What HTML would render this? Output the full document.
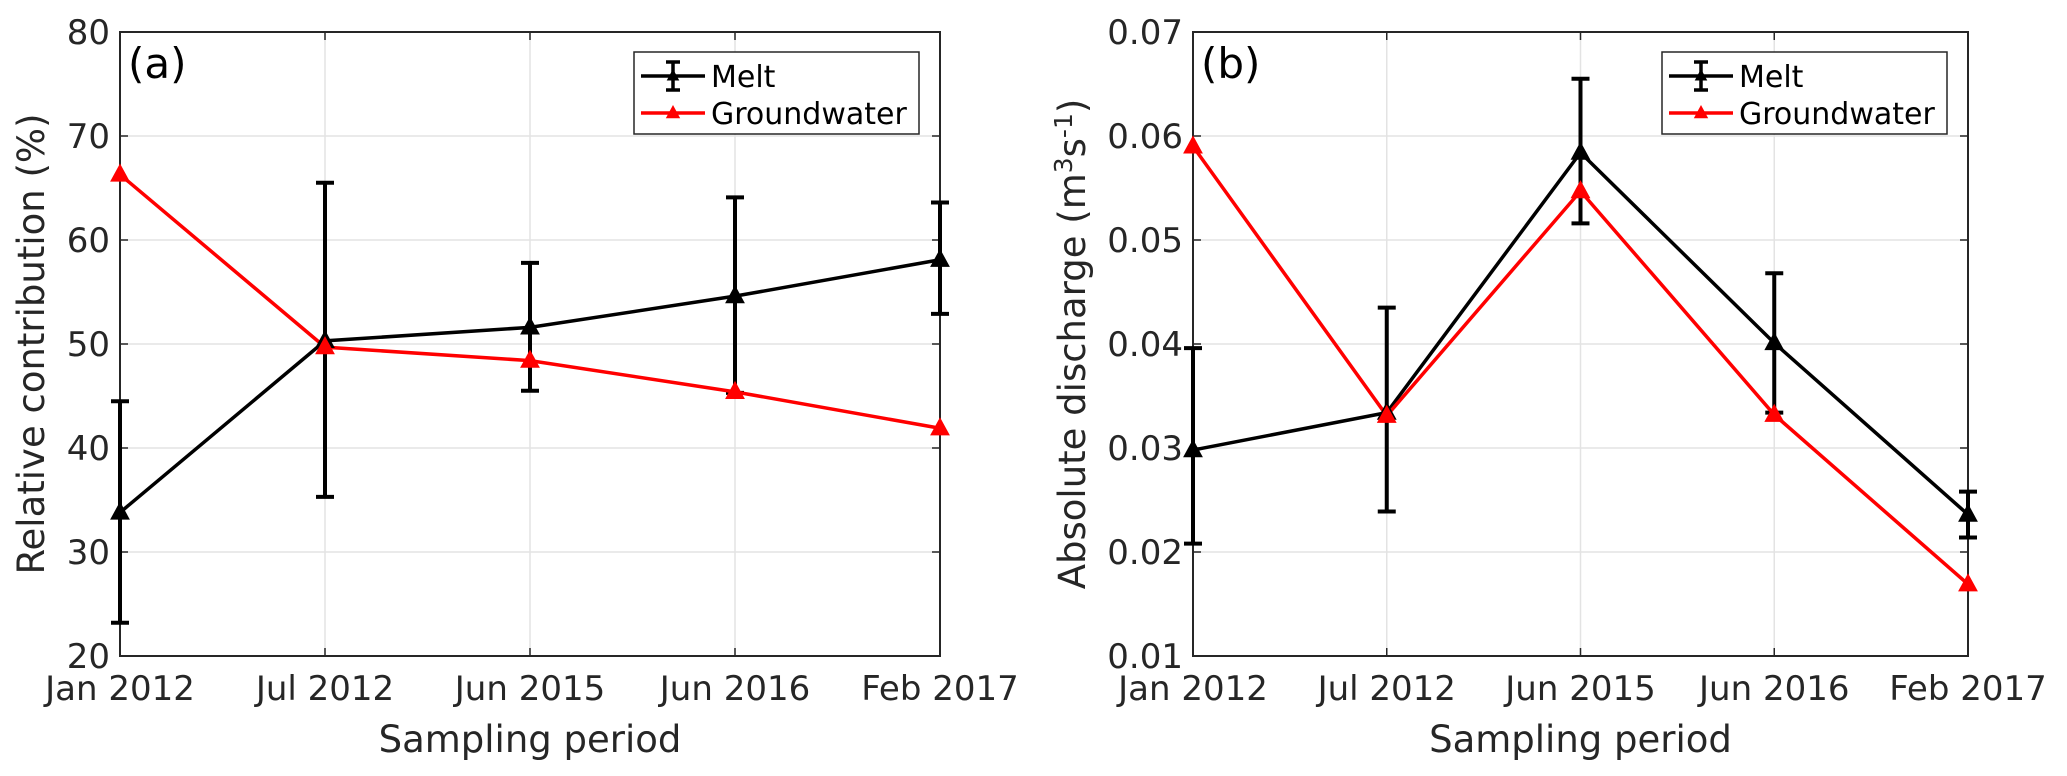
<!DOCTYPE html>
<html><head><meta charset="utf-8">
<style>
html,body{margin:0;padding:0;background:#fff;}
svg{display:block;font-family:"DejaVu Sans","Liberation Sans",sans-serif;}
</style></head>
<body>
<svg id="chart" width="2067" height="776" viewBox="0 0 2067 776" xmlns="http://www.w3.org/2000/svg"></svg>
<script>
const categories = ["Jan 2012","Jul 2012","Jun 2015","Jun 2016","Feb 2017"];
// Panel (a) relative contribution (%)
const aMelt = [33.8, 50.3, 51.6, 54.6, 58.1];
const aMeltLow = [23.2, 35.3, 45.5, 45.3, 52.9];
const aMeltHigh = [44.5, 65.5, 57.8, 64.1, 63.6];
const aGround = [66.3, 49.7, 48.4, 45.4, 41.9];
const aTicks = [20, 30, 40, 50, 60, 70, 80];
const aTickLabels = ["20","30","40","50","60","70","80"];
// Panel (b) absolute discharge
const bMelt = [0.0298, 0.0334, 0.0584, 0.0401, 0.0236];
const bMeltLow = [0.0208, 0.0239, 0.0516, 0.0334, 0.0214];
const bMeltHigh = [0.0396, 0.0435, 0.0655, 0.0468, 0.0258];
const bGround = [0.0590, 0.0331, 0.0547, 0.0332, 0.0169];
const bTicks = [0.01, 0.02, 0.03, 0.04, 0.05, 0.06, 0.07];
const bTickLabels = ["0.01","0.02","0.03","0.04","0.05","0.06","0.07"];

const NS = "http://www.w3.org/2000/svg";
const svg = document.getElementById("chart");
function mk(tag, attrs, parent, text){
  const e = document.createElementNS(NS, tag);
  for (const k in attrs) e.setAttribute(k, attrs[k]);
  if (text !== undefined) e.textContent = text;
  (parent || svg).appendChild(e);
  return e;
}
function tri(x, y, s){
  return `${x},${y-s} ${x-s*0.9},${y+s*0.65} ${x+s*0.9},${y+s*0.65}`;
}

function panel(cfg){
  const g = mk("g", {});
  
  
  const L = cfg.left, R = cfg.right, T = 32, B = 656;
  const ymin = cfg.ticks[0], ymax = cfg.ticks[cfg.ticks.length-1];
  const xs = i => L + (R-L) * i / (categories.length-1);
  const ys = v => B - (v - ymin) / (ymax - ymin) * (B - T);
  cfg.ticks.forEach((t, i) => {
    if (i > 0 && i < cfg.ticks.length-1) {
      const gl = mk("line", {x1:L, x2:R, y1:ys(t), y2:ys(t), stroke:"#e3e3e3", "stroke-width":1.5}, g);
      
      
    }
    const tk = mk("line", {x1:L, x2:L+8, y1:ys(t), y2:ys(t), stroke:"#262626", "stroke-width":1.5}, g);
    
    
    const tk2 = mk("line", {x1:R, x2:R-8, y1:ys(t), y2:ys(t), stroke:"#262626", "stroke-width":1.5}, g);
    
    
    const lb = mk("text", {x:L-10, y:ys(t)+12, "text-anchor":"end", "font-size":34, fill:"#262626"}, g, cfg.tickLabels[i]);
    
    
  });
  categories.forEach((c, i) => {
    if (i > 0 && i < categories.length-1) {
      const gl = mk("line", {x1:xs(i), x2:xs(i), y1:T, y2:B, stroke:"#e3e3e3", "stroke-width":1.5}, g);
      
      
    }
    const tk = mk("line", {x1:xs(i), x2:xs(i), y1:B, y2:B-8, stroke:"#262626", "stroke-width":1.5}, g);
    
    
    const tk2 = mk("line", {x1:xs(i), x2:xs(i), y1:T, y2:T+8, stroke:"#262626", "stroke-width":1.5}, g);
    
    
    const lb = mk("text", {x:xs(i), y:B+44, "text-anchor":"middle", "font-size":34, fill:"#262626"}, g, c);
    
    
  });
  const box = mk("rect", {x:L, y:T, width:R-L, height:B-T, fill:"none", stroke:"#262626", "stroke-width":2}, g);
  
  
  cfg.melt.forEach((v, i) => {
    const x = xs(i), y1 = ys(cfg.low[i]), y2 = ys(cfg.high[i]);
    const eb = mk("path", {d:`M${x},${y1}V${y2}M${x-9},${y1}H${x+9}M${x-9},${y2}H${x+9}`, stroke:"#000", "stroke-width":4, fill:"none"}, g);
    
    
  });
  const mPts = cfg.melt.map((v,i)=>`${xs(i)},${ys(v)}`).join(" ");
  const ml = mk("polyline", {points:mPts, fill:"none", stroke:"#000", "stroke-width":3.5}, g);
  
  
  const gPts = cfg.ground.map((v,i)=>`${xs(i)},${ys(v)}`).join(" ");
  const gll = mk("polyline", {points:gPts, fill:"none", stroke:"#ff0000", "stroke-width":3.5}, g);
  
  
  cfg.melt.forEach((v, i) => {
    const m = mk("polygon", {points:tri(xs(i), ys(v), 11), fill:"#000"}, g);
    
    
  });
  cfg.ground.forEach((v, i) => {
    const m = mk("polygon", {points:tri(xs(i), ys(v), 11), fill:"#ff0000"}, g);
    
    
  });
  const pl = mk("text", {x:L+8, y:T+46, "font-size":42, fill:"#000"}, g, cfg.label);
  
  
  const xt = mk("text", {x:(L+R)/2, y:B+96, "text-anchor":"middle", "font-size":37, fill:"#262626"}, g, "Sampling period");
  
  
  const yt = mk("text", {x:0, y:0, "text-anchor":"middle", "font-size":37, fill:"#262626", transform:`translate(${cfg.ytx},${(T+B)/2}) rotate(-90)`}, g);
  
  
  cfg.ytitle(yt);
  const lx = R - 306, lyT = 52;
  const lg = mk("g", {}, g);
  
  
  mk("rect", {x:lx, y:lyT, width:285, height:82, fill:"#fff", stroke:"#262626", "stroke-width":1.5}, lg);
  const e1 = mk("g", {}, lg);
  
  
  const ly1 = lyT + 24, ly2 = lyT + 61, cx = lx + 39;
  mk("line", {x1:lx+7, x2:lx+71, y1:ly1, y2:ly1, stroke:"#000", "stroke-width":3.5}, e1);
  mk("path", {d:`M${cx},${ly1-14}V${ly1+14}M${cx-7},${ly1-14}H${cx+7}M${cx-7},${ly1+14}H${cx+7}`, stroke:"#000", "stroke-width":3.5, fill:"none"}, e1);
  mk("polygon", {points:tri(cx, ly1, 7), fill:"#000"}, e1);
  mk("text", {x:lx+77, y:ly1+11, "font-size":30, fill:"#000"}, e1, "Melt");
  const e2 = mk("g", {}, lg);
  
  
  mk("line", {x1:lx+7, x2:lx+71, y1:ly2, y2:ly2, stroke:"#ff0000", "stroke-width":3.5}, e2);
  mk("polygon", {points:tri(cx, ly2, 8), fill:"#ff0000"}, e2);
  mk("text", {x:lx+77, y:ly2+11, "font-size":30, fill:"#000"}, e2, "Groundwater");
}

panel({name:"panel-a", left:120, right:940, ticks:aTicks, tickLabels:aTickLabels,
  melt:aMelt, low:aMeltLow, high:aMeltHigh, ground:aGround, label:"(a)", ytx:44,
  ytitle: t => { t.textContent = "Relative  contribution (%)"; }});
panel({name:"panel-b", left:1193, right:1968, ticks:bTicks, tickLabels:bTickLabels,
  melt:bMelt, low:bMeltLow, high:bMeltHigh, ground:bGround, label:"(b)", ytx:1085,
  ytitle: t => {
    mk("tspan", {}, t, "Absolute  discharge (m");
    mk("tspan", {dy:-13, "font-size":25}, t, "3");
    mk("tspan", {dy:13}, t, "s");
    mk("tspan", {dy:-13, "font-size":25}, t, "-1");
    mk("tspan", {dy:13}, t, ")");
  }});
</script>
</body></html>
